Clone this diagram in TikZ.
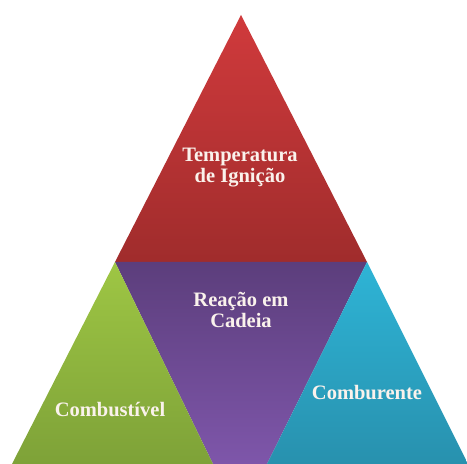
\documentclass[tikz,border=0pt]{standalone}
\usepackage{fontspec}
\setmainfont{Liberation Serif}
\definecolor{vermelhoA}{RGB}{208,58,60}
\definecolor{vermelhoB}{RGB}{160,44,44}
\definecolor{roxoA}{RGB}{92,62,124}
\definecolor{roxoB}{RGB}{126,86,170}
\definecolor{verdeA}{RGB}{158,198,68}
\definecolor{verdeB}{RGB}{126,162,56}
\definecolor{cianoA}{RGB}{46,180,214}
\definecolor{cianoB}{RGB}{40,145,174}
\definecolor{textoclaro}{RGB}{250,242,236}
\tikzset{
  rotulo/.style={text=textoclaro, align=center, inner sep=0pt,
    font=\bfseries\fontsize{20.5}{21}\selectfont}
}
\begin{document}
\begin{tikzpicture}[x=1pt, y=1pt]
\useasboundingbox (0,0) rectangle (467,464);
\clip (0,0) rectangle (467,464);

% Triangulo de cima
\shade[top color=vermelhoA, bottom color=vermelhoB] (241,449) -- (115,202) -- (367,202) -- cycle;
% Triangulo do meio (invertido)
\shade[top color=roxoA, bottom color=roxoB] (115,202) -- (367,202) -- (267,0) -- (213,0) -- cycle;
% Triangulo da esquerda
\shade[top color=verdeA, bottom color=verdeB] (115,202) -- (213,0) -- (12,0) -- cycle;
% Triangulo da direita
\shade[top color=cianoA, bottom color=cianoB] (367,202) -- (468,0) -- (267,0) -- cycle;

% Textos
\node[rotulo] (temperatura) at (240,296) {Temperatura\\de Ignição};
\node[rotulo] (reacao) at (241,154) {Reação em\\Cadeia};
\node[rotulo, anchor=base] (combustivel) at (110,47) {Combustível};
\node[rotulo, anchor=base] (comburente) at (367,64) {Comburente};
\end{tikzpicture}
\end{document}
